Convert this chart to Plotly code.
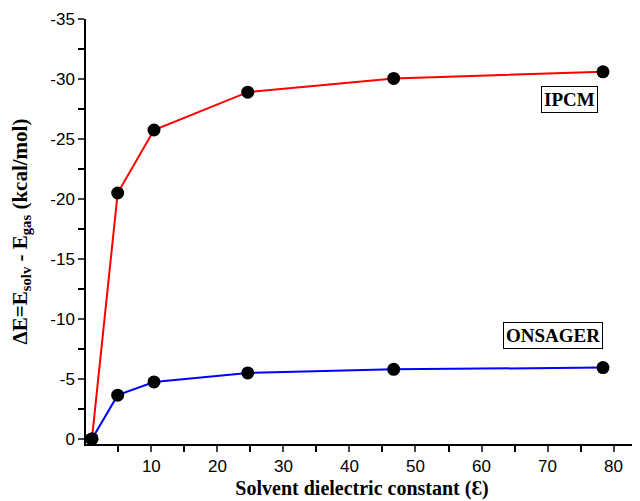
import plotly.graph_objects as go

eps = [1.0, 4.9, 10.4, 24.6, 46.7, 78.4]
ipcm = [0.0, -20.5, -25.75, -28.9, -30.05, -30.6]
onsager = [0.0, -3.65, -4.75, -5.5, -5.8, -5.95]

x_ticks = [10, 20, 30, 40, 50, 60, 70, 80]
y_ticks = [0, -5, -10, -15, -20, -25, -30, -35]
y_tick_text = ["0", "-5", "-10", "-15", "-20", "-25", "-30", "-35"]

fig = go.Figure()
fig.add_trace(go.Scatter(x=eps, y=ipcm, mode="lines+markers", name="IPCM",
                         line=dict(color="#ff0000", width=2),
                         marker=dict(color="black", size=13)))
fig.add_trace(go.Scatter(x=eps, y=onsager, mode="lines+markers", name="ONSAGER",
                         line=dict(color="#0000ff", width=2),
                         marker=dict(color="black", size=13)))

fig.add_annotation(x=73.3, y=-28.3, xref="x", yref="y", text="<b>IPCM</b>",
                   showarrow=False, bordercolor="black", borderwidth=1, borderpad=2,
                   font=dict(family="Liberation Serif", size=19, color="black"))
fig.add_annotation(x=70.9, y=-8.64, xref="x", yref="y", text="<b>ONSAGER</b>",
                   showarrow=False, bordercolor="black", borderwidth=1, borderpad=2,
                   font=dict(family="Liberation Serif", size=19, color="black"))

# the page body adds an 8px margin, so the figure is sized and offset for it
fig.update_layout(
    width=632, height=493,
    margin=dict(l=78, r=2, t=11, b=57, autoexpand=False),
    paper_bgcolor="white", plot_bgcolor="white",
    showlegend=False,
    font=dict(family="Liberation Sans", size=17, color="black"),
    xaxis=dict(range=[0.1, 83.7], tickvals=x_ticks, ticks="outside", ticklen=6,
               tickwidth=1.5, showline=True, linecolor="black", linewidth=1.5,
               showgrid=False, zeroline=False, automargin=False,
               tickfont=dict(size=17),
               minor=dict(tickvals=[5, 15, 25, 35, 45, 55, 65, 75], ticks="outside",
                          ticklen=6, tickwidth=1.5, tickcolor="black"),
               title=dict(text="<b>Solvent dielectric constant (Ɛ)</b>", standoff=6,
                          font=dict(family="Liberation Serif", size=20))),
    yaxis=dict(range=[0.42, -35], tickvals=y_ticks, ticktext=y_tick_text,
               ticks="outside", ticklen=6,
               tickwidth=1.5, showline=True, linecolor="black", linewidth=1.5,
               showgrid=False, zeroline=False, automargin=False,
               tickfont=dict(size=17),
               minor=dict(tickvals=[-2.5, -7.5, -12.5, -17.5, -22.5, -27.5, -32.5],
                          ticks="outside", ticklen=6, tickwidth=1.5, tickcolor="black"),
               title=dict(text="<b>ΔE=E<sub>solv</sub> - E<sub>gas</sub> (kcal/mol)</b>",
                          standoff=17,
                          font=dict(family="Liberation Serif", size=21))),
)

fig.write_html("out.html")
